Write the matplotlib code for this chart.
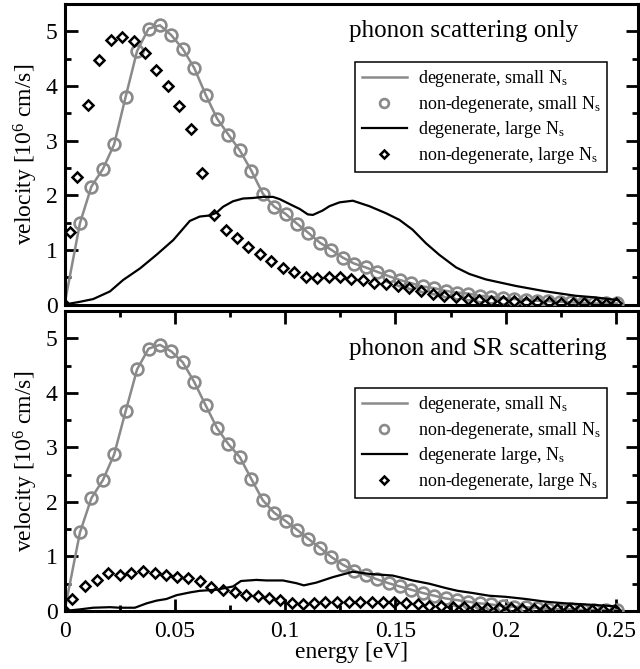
import numpy as np
import matplotlib
matplotlib.use('Agg')
import matplotlib.pyplot as plt
from matplotlib.ticker import MultipleLocator

plt.rcParams['font.family'] = ['Liberation Serif', 'DejaVu Serif']
plt.rcParams['mathtext.fontset'] = 'custom'
plt.rcParams['mathtext.rm'] = 'Liberation Serif'
plt.rcParams['mathtext.it'] = 'Liberation Serif:italic'

# energy grid of the non-degenerate, small Ns points (both panels)
aEnergy_circle = [0.0070, 0.0122, 0.0174, 0.0225, 0.0277, 0.0329, 0.0381, 0.0433,
                  0.0484, 0.0536, 0.0588, 0.0640, 0.0692, 0.0743, 0.0795, 0.0847,
                  0.0899, 0.0951, 0.1002, 0.1054, 0.1106, 0.1158, 0.1210, 0.1261,
                  0.1313, 0.1365, 0.1417, 0.1469, 0.1520, 0.1572, 0.1624, 0.1676,
                  0.1728, 0.1779, 0.1831, 0.1883, 0.1935, 0.1987, 0.2038, 0.2090,
                  0.2142, 0.2194, 0.2246, 0.2297, 0.2349, 0.2401, 0.2453, 0.2505]

# --- phonon scattering only
aVel_small_top = [1.49, 2.16, 2.48, 2.93, 3.80, 4.64, 5.05, 5.11,
                  4.93, 4.68, 4.33, 3.84, 3.40, 3.11, 2.82, 2.45,
                  2.03, 1.79, 1.66, 1.48, 1.31, 1.13, 1.00, 0.86,
                  0.75, 0.68, 0.60, 0.52, 0.45, 0.39, 0.33, 0.30,
                  0.25, 0.22, 0.20, 0.16, 0.14, 0.12, 0.10, 0.09,
                  0.07, 0.06, 0.05, 0.04, 0.03, 0.02, 0.02, 0.02]

aEnergy_large_deg_top = [0.0, 0.0070, 0.0130, 0.0206, 0.0266, 0.0342, 0.0417, 0.0493,
                         0.0568, 0.0613, 0.0658, 0.0689, 0.0719, 0.0764, 0.0809, 0.0854,
                         0.0900, 0.0945, 0.0975, 0.1035, 0.1066, 0.1103, 0.1126, 0.1170,
                         0.1201, 0.1247, 0.1307, 0.1382, 0.1458, 0.1518, 0.1578, 0.1639,
                         0.1699, 0.1775, 0.1835, 0.1910, 0.2046, 0.2182, 0.2318, 0.2408,
                         0.2510]
aVel_large_deg_top = [0.0, 0.05, 0.10, 0.24, 0.45, 0.66, 0.91, 1.18,
                      1.53, 1.61, 1.63, 1.68, 1.79, 1.89, 1.94, 1.95,
                      1.97, 1.97, 1.93, 1.81, 1.75, 1.65, 1.64, 1.72,
                      1.80, 1.87, 1.90, 1.80, 1.67, 1.55, 1.37, 1.12,
                      0.91, 0.68, 0.56, 0.46, 0.34, 0.24, 0.16, 0.13,
                      0.08]

aEnergy_large_nd_top = [0.0, 0.0025, 0.0055, 0.0108, 0.0158, 0.0209, 0.0262, 0.0314,
                        0.0367, 0.0417, 0.0470, 0.0520, 0.0575, 0.0625, 0.0677, 0.0730,
                        0.0783, 0.0833, 0.0885, 0.0936, 0.0990, 0.1042, 0.1093, 0.1144,
                        0.1198, 0.1249, 0.1300, 0.1352, 0.1405, 0.1458, 0.1511, 0.1563,
                        0.1616, 0.1669, 0.1722, 0.1775, 0.1827, 0.1880, 0.1933, 0.1986,
                        0.2038, 0.2091, 0.2144, 0.2197, 0.2250, 0.2303, 0.2356, 0.2408,
                        0.2454, 0.2500]
aVel_large_nd_top = [0.0, 1.32, 2.33, 3.66, 4.47, 4.84, 4.90, 4.82,
                     4.60, 4.29, 4.00, 3.64, 3.22, 2.40, 1.64, 1.36,
                     1.21, 1.06, 0.93, 0.80, 0.67, 0.59, 0.51, 0.48,
                     0.51, 0.50, 0.46, 0.45, 0.40, 0.38, 0.34, 0.30,
                     0.25, 0.20, 0.16, 0.13, 0.10, 0.08, 0.07, 0.06,
                     0.06, 0.05, 0.04, 0.04, 0.03, 0.02, 0.02, 0.02,
                     0.01, 0.02]

# --- phonon and SR scattering
aVel_small_bot = [1.44, 2.07, 2.40, 2.87, 3.66, 4.43, 4.81, 4.88,
                  4.76, 4.56, 4.20, 3.77, 3.35, 3.06, 2.82, 2.42,
                  2.03, 1.80, 1.65, 1.49, 1.32, 1.16, 0.99, 0.85,
                  0.74, 0.66, 0.58, 0.51, 0.45, 0.39, 0.33, 0.28,
                  0.23, 0.20, 0.17, 0.14, 0.12, 0.09, 0.08, 0.07,
                  0.06, 0.04, 0.03, 0.03, 0.02, 0.02, 0.02, 0.02]

aEnergy_large_deg_bot = [0.0, 0.0070, 0.0130, 0.0206, 0.0250, 0.0319, 0.0372, 0.0417,
                         0.0462, 0.0508, 0.0568, 0.0613, 0.0689, 0.0764, 0.0800, 0.0870,
                         0.0915, 0.0990, 0.1051, 0.1085, 0.1141, 0.1216, 0.1307, 0.1382,
                         0.1488, 0.1578, 0.1654, 0.1729, 0.1782, 0.1850, 0.1925, 0.2000,
                         0.2091, 0.2182, 0.2272, 0.2363, 0.2483, 0.2510]
aVel_large_deg_bot = [0.0, 0.03, 0.06, 0.07, 0.06, 0.06, 0.14, 0.19,
                      0.22, 0.29, 0.34, 0.37, 0.39, 0.45, 0.55, 0.57,
                      0.56, 0.56, 0.51, 0.47, 0.52, 0.62, 0.72, 0.68,
                      0.65, 0.56, 0.50, 0.42, 0.37, 0.33, 0.28, 0.26,
                      0.22, 0.17, 0.14, 0.12, 0.09, 0.06]

aEnergy_large_nd_bot = [0.0, 0.0035, 0.0095, 0.0147, 0.0199, 0.0251, 0.0303, 0.0356,
                        0.0408, 0.0461, 0.0512, 0.0562, 0.0613, 0.0666, 0.0719, 0.0771,
                        0.0824, 0.0877, 0.0929, 0.0979, 0.1030, 0.1081, 0.1133, 0.1183,
                        0.1236, 0.1289, 0.1340, 0.1395, 0.1446, 0.1496, 0.1548, 0.1601,
                        0.1654, 0.1707, 0.1760, 0.1812, 0.1865, 0.1917, 0.1970, 0.2022,
                        0.2075, 0.2127, 0.2180, 0.2232, 0.2285, 0.2337, 0.2390, 0.2442,
                        0.2495]
aVel_large_nd_bot = [0.0, 0.22, 0.46, 0.57, 0.69, 0.66, 0.70, 0.73,
                     0.69, 0.66, 0.63, 0.60, 0.55, 0.44, 0.39, 0.35,
                     0.30, 0.27, 0.24, 0.20, 0.15, 0.13, 0.14, 0.17,
                     0.17, 0.17, 0.16, 0.17, 0.17, 0.16, 0.14, 0.12,
                     0.10, 0.09, 0.08, 0.07, 0.06, 0.06, 0.05, 0.05,
                     0.04, 0.04, 0.04, 0.03, 0.03, 0.03, 0.02, 0.02,
                     0.02]

aLabel_top = ['degenerate, small N$_\\mathrm{s}$', 'non-degenerate, small N$_\\mathrm{s}$',
              'degenerate, large N$_\\mathrm{s}$', 'non-degenerate, large N$_\\mathrm{s}$']
aLabel_bot = ['degenerate, small N$_\\mathrm{s}$', 'non-degenerate, small N$_\\mathrm{s}$',
              'degenerate large, N$_\\mathrm{s}$', 'non-degenerate, large N$_\\mathrm{s}$']

sGrey = '#8a8a8a'


def plot_panel(ax, aVel_small, aX_line, aY_line, aX_nd, aY_nd, aLabel,
               sTitle, dTitle_x, dTitle_y, dLegend_y):
    # degenerate small Ns line starts at the origin
    ax.plot([0.0] + aEnergy_circle, [0.0] + aVel_small, color=sGrey, lw=1.8,
            label=aLabel[0], zorder=2)
    ax.plot(aEnergy_circle, aVel_small, ls='none', marker='o', ms=8.5, mfc='none',
            mec=sGrey, mew=1.9, label=aLabel[1], zorder=3)
    ax.plot(aX_line, aY_line, color='black', lw=1.6, label=aLabel[2], zorder=4)
    ax.plot(aX_nd, aY_nd, ls='none', marker='D', ms=5.5, mfc='none',
            mec='black', mew=1.8, label=aLabel[3], zorder=5)

    ax.set_xlim(0, 0.26)
    ax.set_ylim(0, 5.5)
    ax.xaxis.set_major_locator(MultipleLocator(0.05))
    ax.xaxis.set_minor_locator(MultipleLocator(0.025))
    ax.yaxis.set_major_locator(MultipleLocator(1))
    ax.yaxis.set_minor_locator(MultipleLocator(0.5))
    ax.set_xticks([0, 0.05, 0.1, 0.15, 0.2, 0.25])
    ax.set_xticklabels(['0', '0.05', '0.1', '0.15', '0.2', '0.25'])
    for s in ax.spines.values():
        s.set_linewidth(2.2)
    ax.tick_params(which='both', direction='in', width=2.0, labelsize=17, pad=5)
    ax.tick_params(which='major', length=9)
    ax.tick_params(which='minor', length=4.5)
    ax.set_ylabel('velocity [10$^{6}$ cm/s]', fontsize=17, labelpad=4)

    ax.text(dTitle_x, dTitle_y, sTitle, transform=ax.transAxes, ha='right',
            va='baseline', fontsize=18)

    leg = ax.legend(loc='upper right', bbox_to_anchor=(0.946, dLegend_y),
                    borderaxespad=0, fontsize=13, frameon=True, fancybox=False,
                    framealpha=1, handlelength=2.5, handletextpad=0.6,
                    labelspacing=0.25, borderpad=0.35, markerscale=0.75)
    frame = leg.get_frame()
    frame.set_edgecolor('black')
    frame.set_linewidth(1.1)


fig = plt.figure(dpi=100)
fig.set_figwidth(6.4)
fig.set_figheight(6.69)

ax_top = fig.add_axes([0.1008, 0.5448, 0.8961, 0.4492])
ax_bot = fig.add_axes([0.1008, 0.0867, 0.8961, 0.4484])

plot_panel(ax_top, aVel_small_top, aEnergy_large_deg_top, aVel_large_deg_top,
           aEnergy_large_nd_top, aVel_large_nd_top, aLabel_top,
           'phonon scattering only', 0.895, 0.89, 0.807)
plot_panel(ax_bot, aVel_small_bot, aEnergy_large_deg_bot, aVel_large_deg_bot,
           aEnergy_large_nd_bot, aVel_large_nd_bot, aLabel_bot,
           'phonon and SR scattering', 0.946, 0.853, 0.743)

ax_top.tick_params(which='both', left=True, right=True, top=False, bottom=False,
                   labelbottom=False)
ax_bot.tick_params(which='both', left=True, right=True, top=True, bottom=True)
ax_bot.tick_params(axis='x', pad=7)
ax_bot.set_xlabel('energy [eV]', fontsize=17, labelpad=0)

fig.savefig('out.png', dpi=100)
plt.close('all')
